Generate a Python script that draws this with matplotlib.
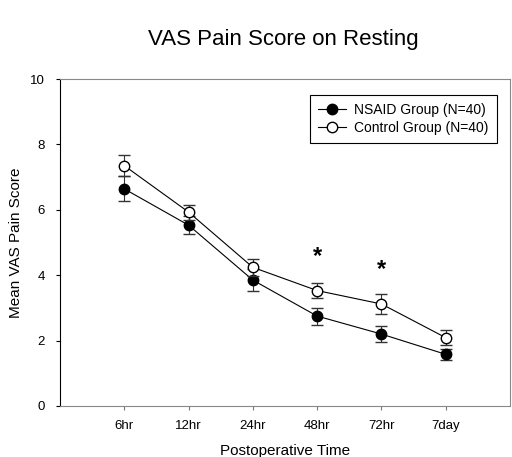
import numpy as np
import matplotlib.pyplot as plt
from matplotlib.lines import Line2D

plt.rcParams['font.family'] = ['Liberation Sans', 'DejaVu Sans']

# Data
times = ["6hr", "12hr", "24hr", "48hr", "72hr", "7day"]
nsaid_mean = [6.64, 5.53, 3.85, 2.75, 2.20, 1.58]
nsaid_err = [0.38, 0.28, 0.34, 0.26, 0.25, 0.17]
control_mean = [7.35, 5.93, 4.24, 3.53, 3.12, 2.09]
control_err = [0.33, 0.23, 0.27, 0.22, 0.31, 0.22]
star_idx = [3, 4]
star_y = [4.56, 4.17]

x = np.arange(1, len(times) + 1)

fig = plt.figure(figsize=(5.12, 4.57), dpi=100)
ax = fig.add_axes([60 / 512, 1 - 406 / 457, 450 / 512, 327 / 457])

ax.errorbar(x, nsaid_mean, yerr=nsaid_err, color='black', marker='o', ms=7.5,
            mfc='black', mec='black', lw=0.8, capsize=4, elinewidth=0.8,
            ecolor='#333333', zorder=3)
ax.errorbar(x, control_mean, yerr=control_err, color='black', marker='o', ms=7.5,
            mfc='white', mec='black', lw=0.8, capsize=4, elinewidth=0.8,
            ecolor='#333333', zorder=4)

# significance marks
for i, yy in zip(star_idx, star_y):
    ax.text(x[i], yy, "*", ha='center', va='center', fontsize=17, fontweight='bold')

ax.set_xlim(0, 7)
ax.set_ylim(0, 10)
ax.set_xticks(x)
ax.set_xticklabels(times, fontsize=9.5)
ax.set_yticks([0, 2, 4, 6, 8, 10])
ax.tick_params(axis='y', labelsize=9.5, length=3, direction='out', pad=8)
ax.tick_params(axis='x', length=3, direction='out', color='#777777', pad=7)
for s in ['top', 'right', 'bottom']:
    ax.spines[s].set_color('#888888')
ax.spines['left'].set_color('black')

ax.set_xlabel("Postoperative Time", fontsize=11, labelpad=9)
ax.set_ylabel("Mean VAS Pain Score", fontsize=11)
ax.yaxis.set_label_coords(-0.083, 0.5)

handles = [
    Line2D([], [], color='black', lw=0.8, marker='o', ms=7.5, mfc='black', mec='black'),
    Line2D([], [], color='black', lw=0.8, marker='o', ms=7.5, mfc='white', mec='black'),
]
leg = ax.legend(handles, ["NSAID Group (N=40)", "Control Group (N=40)"],
                loc='upper right', bbox_to_anchor=(0.971, 0.951), borderaxespad=0,
                fontsize=10, fancybox=False, edgecolor='black', framealpha=1,
                handlelength=2.0, handletextpad=0.6, borderpad=0.6, labelspacing=0.25)
leg.get_frame().set_linewidth(0.8)

fig.text(283 / 512, 1 - 40 / 457, "VAS Pain Score on Resting", ha='center', va='center',
         fontsize=16)

fig.savefig("out.png", dpi=100)
